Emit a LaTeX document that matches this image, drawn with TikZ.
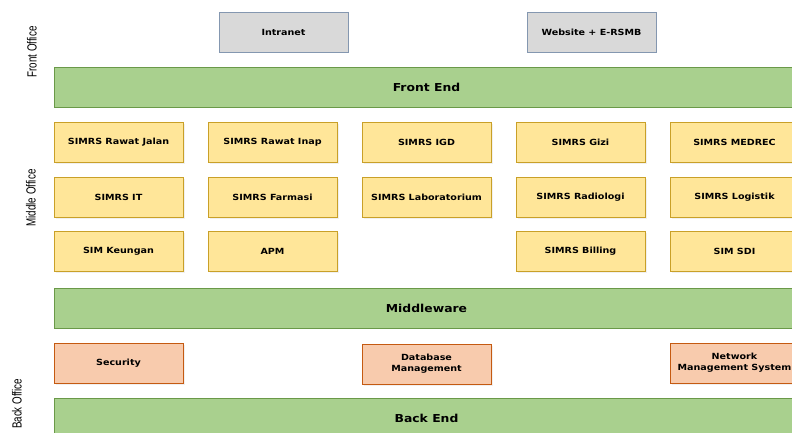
\documentclass[tikz,border=0pt]{standalone}
\usepackage{fontspec}
\usepackage{xcolor}
\usetikzlibrary{shadows}
\setmainfont{DejaVu Sans}
\newfontfamily\boxfont{DejaVu Sans}[FakeStretch=1.13]
\newfontfamily\sidefont{Liberation Sans}[FakeStretch=0.74]
\definecolor{layergreen}{RGB}{169, 208, 142}
\definecolor{layerborder}{RGB}{106, 153, 72}
\definecolor{moduleyellow}{RGB}{255, 230, 153}
\definecolor{moduleborder}{RGB}{201, 160, 40}
\definecolor{infraorange}{RGB}{248, 203, 173}
\definecolor{infraborder}{RGB}{197, 90, 17}
\definecolor{portalgrey}{RGB}{217, 217, 217}
\definecolor{portalborder}{RGB}{132, 151, 176}

\begin{document}
\begin{tikzpicture}[
        x=1bp, y=-1bp,
        layer/.style={rectangle, draw=layerborder, thick, minimum width=745bp, minimum height=40bp, fill=layergreen, font=\boxfont\bfseries\fontsize{11}{12}\selectfont},
        module/.style={rectangle, draw=moduleborder, thick, minimum width=129bp, minimum height=40bp, fill=moduleyellow, drop shadow={opacity=0.12, shadow xshift=1.5bp, shadow yshift=-1.5bp}, font=\boxfont\bfseries\fontsize{8.5}{11}\selectfont},
        infra/.style={rectangle, draw=infraborder, thick, minimum width=129bp, minimum height=40bp, fill=infraorange, align=center, drop shadow={opacity=0.12, shadow xshift=1.5bp, shadow yshift=-1.5bp}, font=\boxfont\bfseries\fontsize{8.5}{11}\selectfont},
        portal/.style={rectangle, draw=portalborder, thick, minimum width=129bp, minimum height=40bp, fill=portalgrey, font=\boxfont\bfseries\fontsize{8.5}{11}\selectfont},
        office/.style={rotate=90, font=\sidefont\fontsize{13.3}{15}\selectfont}
    ]
    \useasboundingbox (0,0) rectangle (792,432);
    
    % Office labels
    \node[office] (front_office) at (32, 52) {Front Office};
    \node[office] (middle_office) at (31, 198) {Middle Office};
    \node[office] (back_office) at (17, 404) {Back Office};
    
    % Front office
    \node[portal] (intranet) at (283.5, 32) {Intranet};
    \node[portal] (website) at (591.5, 32) {Website + E-RSMB};
    \node[layer] (front_end) at (426.5, 87) {Front End};
    
    % Middle office modules
    \node[module] (rawat_jalan) at (118.5, 142) {SIMRS Rawat Jalan};
    \node[module] (rawat_inap) at (272.5, 142) {SIMRS Rawat Inap};
    \node[module] (igd) at (426.5, 142) {SIMRS IGD};
    \node[module] (gizi) at (580.5, 142) {SIMRS Gizi};
    \node[module] (medrec) at (734.5, 142) {SIMRS MEDREC};
    
    \node[module] (it) at (118.5, 197) {SIMRS IT};
    \node[module] (farmasi) at (272.5, 197) {SIMRS Farmasi};
    \node[module] (laboratorium) at (426.5, 197) {SIMRS Laboratorium};
    \node[module] (radiologi) at (580.5, 197) {SIMRS Radiologi};
    \node[module] (logistik) at (734.5, 197) {SIMRS Logistik};
    
    \node[module] (keuangan) at (118.5, 251) {SIM Keungan};
    \node[module] (apm) at (272.5, 251) {APM};
    \node[module] (billing) at (580.5, 251) {SIMRS Billing};
    \node[module] (sdi) at (734.5, 251) {SIM SDI};
    
    \node[layer] (middleware) at (426.5, 308) {Middleware};
    
    % Back office
    \node[infra] (security) at (118.5, 363) {Security};
    \node[infra] (database) at (426.5, 364) {Database\\Management};
    \node[infra] (network) at (734.5, 363) {Network\\Management System};
    \node[layer] (back_end) at (426.5, 418) {Back End};
    
\end{tikzpicture}
\end{document}
